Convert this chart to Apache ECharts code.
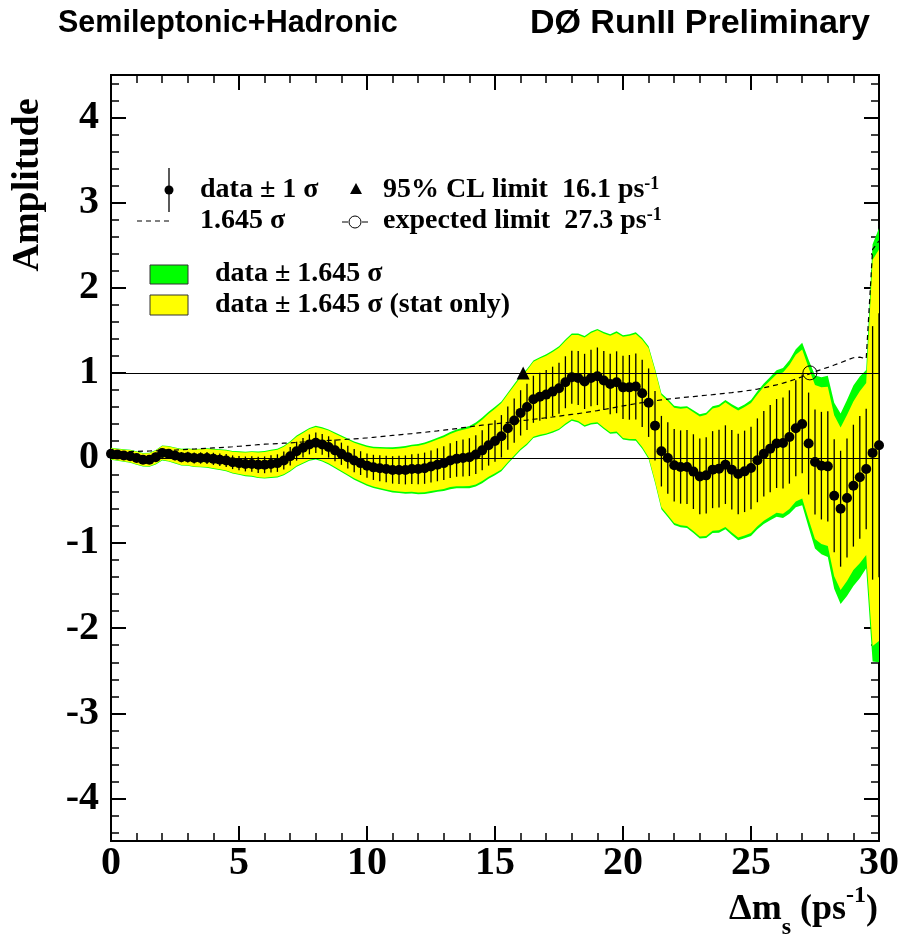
<!DOCTYPE html>
<html>
<head>
<meta charset="utf-8">
<script src="https://cdn.jsdelivr.net/npm/echarts@6/dist/echarts.min.js"></script>
<style>
html,body{margin:0;padding:0;background:#fff;}
#chart{width:903px;height:936px;}
</style>
</head>
<body>
<div id="chart"></div>
<script>
// Delta m_s scan points (ps^-1)
const dm = [0,0.25,0.5,0.75,1,1.25,1.5,1.75,2,2.25,2.5,2.75,3,3.25,3.5,3.75,4,4.25,4.5,4.75,
5,5.25,5.5,5.75,6,6.25,6.5,6.75,7,7.25,7.5,7.75,8,8.25,8.5,8.75,9,9.25,9.5,9.75,
10,10.25,10.5,10.75,11,11.25,11.5,11.75,12,12.25,12.5,12.75,13,13.25,13.5,13.75,14,14.25,14.5,14.75,
15,15.25,15.5,15.75,16,16.25,16.5,16.75,17,17.25,17.5,17.75,18,18.25,18.5,18.75,19,19.25,19.5,19.75,
20,20.25,20.5,20.75,21,21.25,21.5,21.75,22,22.25,22.5,22.75,23,23.25,23.5,23.75,24,24.25,24.5,24.75,
25,25.25,25.5,25.75,26,26.25,26.5,26.75,27,27.25,27.5,27.75,28,28.25,28.5,28.75,29,29.25,29.5,29.75,
30];

// Measured amplitude
const amp = [0.05,0.04,0.03,0.02,0.00,-0.02,-0.02,0.01,0.06,0.05,0.03,0.01,0.01,0.00,0.00,0.00,-0.01,-0.02,-0.03,-0.05,
-0.06,-0.07,-0.07,-0.08,-0.08,-0.07,-0.06,-0.03,0.02,0.08,0.12,0.16,0.18,0.16,0.13,0.09,0.05,0.01,-0.03,-0.06,
-0.09,-0.11,-0.12,-0.13,-0.14,-0.14,-0.14,-0.13,-0.13,-0.12,-0.10,-0.08,-0.06,-0.03,-0.01,0.00,0.01,0.04,0.09,0.15,
0.20,0.255,0.35,0.44,0.53,0.60,0.69,0.72,0.745,0.78,0.82,0.89,0.95,0.94,0.90,0.94,0.96,0.91,0.87,0.89,
0.83,0.83,0.84,0.76,0.65,0.38,0.08,0.00,-0.086,-0.106,-0.106,-0.16,-0.216,-0.204,-0.137,-0.125,-0.078,-0.137,-0.188,-0.157,
-0.118,-0.027,0.05,0.11,0.17,0.176,0.247,0.35,0.40,0.17,-0.047,-0.09,-0.098,-0.443,-0.596,-0.47,-0.325,-0.227,-0.13,0.06,
0.15];

// 1.645 sigma (total), the dashed sensitivity curve
const sig1645 = [0.070,0.072,0.074,0.076,0.078,0.080,0.082,0.085,0.088,0.091,0.094,0.098,0.102,0.106,0.110,0.114,0.118,0.122,0.127,0.132,
0.138,0.144,0.150,0.156,0.162,0.166,0.170,0.174,0.178,0.183,0.188,0.193,0.198,0.202,0.206,0.210,0.215,0.220,0.225,0.230,
0.236,0.243,0.250,0.257,0.265,0.272,0.280,0.287,0.295,0.302,0.310,0.318,0.327,0.336,0.346,0.356,0.366,0.376,0.386,0.394,
0.402,0.410,0.418,0.428,0.438,0.446,0.455,0.464,0.473,0.482,0.492,0.502,0.512,0.522,0.533,0.545,0.557,0.570,0.584,0.598,
0.612,0.625,0.638,0.650,0.662,0.672,0.682,0.692,0.700,0.708,0.715,0.722,0.730,0.737,0.744,0.752,0.760,0.768,0.777,0.787,
0.798,0.810,0.825,0.842,0.860,0.880,0.902,0.928,0.955,0.985,1.015,1.040,1.065,1.092,1.120,1.150,1.178,1.185,1.165,2.450,
2.550];

// 1.645 sigma (statistical only)
const stat1645 = [0.064,0.066,0.068,0.070,0.072,0.074,0.076,0.079,0.082,0.085,0.087,0.091,0.095,0.099,0.102,0.106,0.110,0.113,0.118,0.123,
0.128,0.134,0.140,0.145,0.151,0.154,0.158,0.162,0.166,0.170,0.175,0.180,0.184,0.188,0.192,0.195,0.200,0.205,0.209,0.214,
0.219,0.226,0.233,0.239,0.246,0.253,0.260,0.267,0.274,0.281,0.288,0.296,0.304,0.312,0.322,0.331,0.340,0.350,0.359,0.370,
0.380,0.390,0.400,0.410,0.420,0.430,0.440,0.448,0.457,0.466,0.476,0.486,0.496,0.506,0.516,0.528,0.540,0.552,0.566,0.580,
0.594,0.606,0.618,0.630,0.641,0.651,0.660,0.670,0.677,0.685,0.692,0.698,0.705,0.712,0.718,0.725,0.732,0.739,0.747,0.755,
0.764,0.774,0.786,0.800,0.814,0.830,0.846,0.862,0.876,0.890,0.905,0.920,0.935,0.945,0.955,0.975,0.990,1.010,1.010,2.270,
2.300];

const clLimit = [[16.1, 1.0]];        // 95% CL limit
const expLimit = [[27.3, 1.0]];       // expected limit
const refLines = [0, 1];
const yMajor = [-4,-3,-2,-1,0,1,2,3,4];

const SERIF = '"Liberation Serif","Times New Roman",serif';
const SANS = '"Liberation Sans",Arial,sans-serif';

const yMinor = [];
for (let k = -22; k <= 22; k++) { if (k % 5 !== 0) yMinor.push(+(k * 0.2).toFixed(1)); }

function band(width, color, z) {
  return {
    type: 'custom', clip: true, silent: true, z: z,
    data: [[dm[0], amp[0]]],
    renderItem: function (params, api) {
      const pts = [];
      for (let i = 0; i < dm.length; i++) pts.push(api.coord([dm[i], amp[i] + width[i]]));
      for (let i = dm.length - 1; i >= 0; i--) pts.push(api.coord([dm[i], amp[i] - width[i]]));
      return { type: 'polygon', shape: { points: pts }, style: { fill: color, stroke: null } };
    }
  };
}

const errData = dm.map((x, i) => [x, amp[i] - sig1645[i] / 1.645, amp[i] + sig1645[i] / 1.645]);

const axisLineStyle = { color: '#000', width: 2 };
function yAx(pos, ticks, len, w, labels) {
  return { type: 'value', min: -4.5, max: 4.5, position: pos,
    axisLine: { show: true, onZero: false, lineStyle: axisLineStyle },
    axisTick: { show: true, inside: true, length: len, customValues: ticks, lineStyle: { color: '#000', width: w } },
    axisLabel: labels ? { show: true, customValues: yMajor, margin: 12, color: '#000', fontSize: 40, fontWeight: 'bold', fontFamily: SERIF } : { show: false },
    splitLine: { show: false } };
}
function xAx(pos, labels) {
  return { type: 'value', min: 0, max: 30, interval: 5, position: pos,
    axisLine: { show: true, onZero: false, lineStyle: axisLineStyle },
    axisTick: { show: true, inside: true, length: 15, lineStyle: { color: '#000', width: 2 } },
    minorTick: { show: true, splitNumber: 5, length: 8, lineStyle: { color: '#000', width: 1.5 } },
    axisLabel: labels ? { show: true, margin: 3, color: '#000', fontSize: 40, fontWeight: 'bold', fontFamily: SERIF } : { show: false },
    splitLine: { show: false }, minorSplitLine: { show: false } };
}

const chart = echarts.init(document.getElementById('chart'), null, { renderer: 'canvas' });
chart.setOption({
  backgroundColor: '#fff',
  animation: false,
  grid: { left: 111, right: 24, top: 75, bottom: 95, containLabel: false },
  xAxis: [ xAx('bottom', true), xAx('top', false) ],
  yAxis: [ yAx('left', yMajor, 15, 2, true), yAx('left', yMinor, 8, 1.5, false),
           yAx('right', yMajor, 15, 2, false), yAx('right', yMinor, 8, 1.5, false) ],
  series: [
    band(sig1645, '#00ff00', 1),
    band(stat1645, '#ffff00', 2),
    { type: 'custom', clip: true, silent: true, z: 3,
      data: errData, encode: { x: 0, y: [1, 2] },
      renderItem: function (params, api) {
        const p0 = api.coord([api.value(0), api.value(1)]);
        const p1 = api.coord([api.value(0), api.value(2)]);
        return { type: 'line', shape: { x1: p0[0], y1: p0[1], x2: p1[0], y2: p1[1] }, style: { stroke: '#000', lineWidth: 1.3 } };
      } },
    { type: 'line', z: 4, silent: true, symbol: 'none', clip: true,
      data: dm.map((x, i) => [x, sig1645[i]]),
      lineStyle: { color: '#000', width: 1.2, type: [5, 4] } },
    { type: 'scatter', z: 5, silent: true, symbol: 'circle', symbolSize: 10,
      itemStyle: { color: '#000', opacity: 1 },
      data: dm.map((x, i) => [x, amp[i]]),
      markLine: { silent: true, symbol: ['none', 'none'], label: { show: false },
        lineStyle: { color: '#000', width: 1, type: 'solid', opacity: 1 },
        data: refLines.map(v => ({ yAxis: v })) } },
    { type: 'scatter', z: 6, silent: true, symbol: 'triangle', symbolSize: 13,
      itemStyle: { color: '#000', opacity: 1 }, data: clLimit },
    { type: 'scatter', z: 6, silent: true, symbol: 'circle', symbolSize: 14,
      itemStyle: { color: 'rgba(0,0,0,0)', borderColor: '#000', borderWidth: 1, opacity: 1 }, data: expLimit }
  ],
  graphic: [
    { type: 'text', x: 58, y: 24, style: { text: 'Semileptonic+Hadronic', font: 'bold 30.5px ' + SANS, fill: '#000', textAlign: 'left', textVerticalAlign: 'middle' } },
    { type: 'text', x: 870, y: 24, style: { text: 'DØ RunII Preliminary', font: 'bold 34px ' + SANS, fill: '#000', textAlign: 'right', textVerticalAlign: 'middle' } },
    { type: 'text', x: 28, y: 185, rotation: Math.PI / 2, style: { text: 'Amplitude', font: 'bold 38px ' + SERIF, fill: '#000', textAlign: 'center', textVerticalAlign: 'middle' } },
    { type: 'text', x: 878, y: 910, style: {
        text: '{a|Δm}{s|s}{a| (ps}{p|-1}{a|)}', textAlign: 'right', textVerticalAlign: 'middle',
        rich: {
          a: { fontSize: 36, fontWeight: 'bold', fontFamily: SERIF, fill: '#000', lineHeight: 40, verticalAlign: 'middle' },
          s: { fontSize: 24, fontWeight: 'bold', fontFamily: SERIF, fill: '#000', lineHeight: 40, verticalAlign: 'bottom', padding: [0, 0, -10, 0] },
          p: { fontSize: 24, fontWeight: 'bold', fontFamily: SERIF, fill: '#000', lineHeight: 40, verticalAlign: 'top', padding: [-6, 0, 0, 0] }
        } } },
    // legend: data +- 1 sigma
    { type: 'line', shape: { x1: 169, y1: 168, x2: 169, y2: 212 }, style: { stroke: '#000', lineWidth: 1.3 } },
    { type: 'circle', shape: { cx: 169, cy: 190, r: 4.5 }, style: { fill: '#000' } },
    { type: 'text', x: 200, y: 190, style: { text: 'data ± 1 σ', font: 'bold 28px ' + SERIF, fill: '#000', textAlign: 'left', textVerticalAlign: 'middle' } },
    // legend: 95% CL limit
    { type: 'polygon', shape: { points: [[350, 194], [362, 194], [356, 183]] }, style: { fill: '#000' } },
    { type: 'text', x: 383, y: 190, style: {
        text: '{a|95% CL limit  16.1 ps}{p|-1}', textAlign: 'left', textVerticalAlign: 'middle',
        rich: {
          a: { fontSize: 28, fontWeight: 'bold', fontFamily: SERIF, fill: '#000', lineHeight: 30, verticalAlign: 'middle' },
          p: { fontSize: 18, fontWeight: 'bold', fontFamily: SERIF, fill: '#000', lineHeight: 30, verticalAlign: 'top' }
        } } },
    // legend: 1.645 sigma dashed
    { type: 'line', shape: { x1: 137, y1: 221, x2: 172, y2: 221 }, style: { stroke: '#000', lineWidth: 1.2, lineDash: [5, 4] } },
    { type: 'text', x: 200, y: 221, style: { text: '1.645 σ', font: 'bold 28px ' + SERIF, fill: '#000', textAlign: 'left', textVerticalAlign: 'middle' } },
    // legend: expected limit
    { type: 'line', shape: { x1: 342, y1: 222, x2: 348, y2: 222 }, style: { stroke: '#000', lineWidth: 1 } },
    { type: 'line', shape: { x1: 362, y1: 222, x2: 368, y2: 222 }, style: { stroke: '#000', lineWidth: 1 } },
    { type: 'circle', shape: { cx: 355, cy: 222, r: 6 }, style: { fill: 'none', stroke: '#000', lineWidth: 1 } },
    { type: 'text', x: 383, y: 221, style: {
        text: '{a|expected limit  27.3 ps}{p|-1}', textAlign: 'left', textVerticalAlign: 'middle',
        rich: {
          a: { fontSize: 28, fontWeight: 'bold', fontFamily: SERIF, fill: '#000', lineHeight: 30, verticalAlign: 'middle' },
          p: { fontSize: 18, fontWeight: 'bold', fontFamily: SERIF, fill: '#000', lineHeight: 30, verticalAlign: 'top' }
        } } },
    // legend: bands
    { type: 'rect', shape: { x: 150, y: 265, width: 38, height: 19 }, style: { fill: '#00ff00', stroke: '#333', lineWidth: 1 } },
    { type: 'text', x: 215, y: 274, style: { text: 'data ± 1.645 σ', font: 'bold 28px ' + SERIF, fill: '#000', textAlign: 'left', textVerticalAlign: 'middle' } },
    { type: 'rect', shape: { x: 150, y: 295, width: 38, height: 20 }, style: { fill: '#ffff00', stroke: '#333', lineWidth: 1 } },
    { type: 'text', x: 215, y: 305, style: { text: 'data ± 1.645 σ (stat only)', font: 'bold 28px ' + SERIF, fill: '#000', textAlign: 'left', textVerticalAlign: 'middle' } }
  ]
});
</script>
</body>
</html>
